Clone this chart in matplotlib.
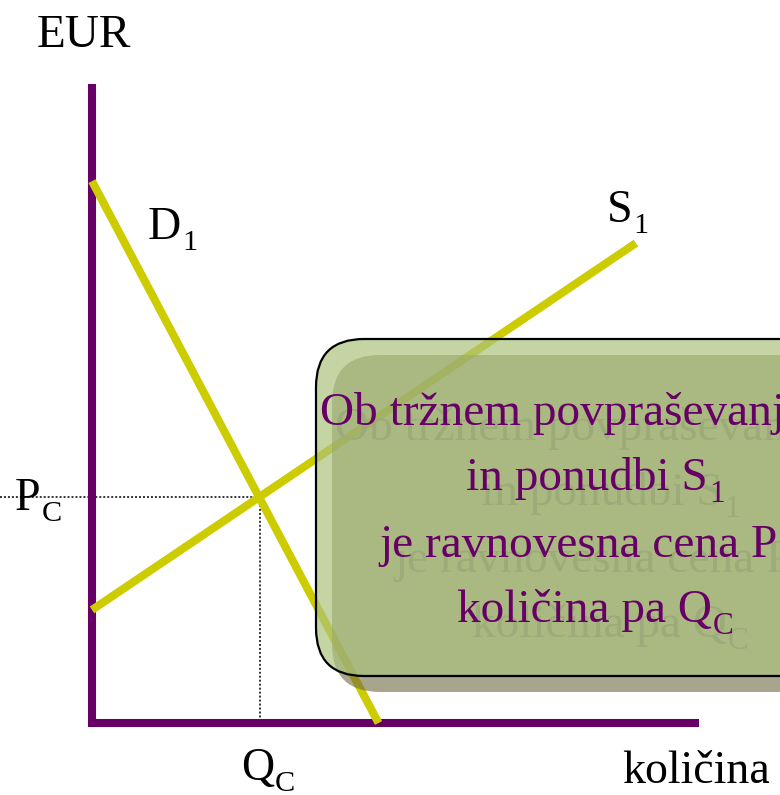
import matplotlib
matplotlib.use("Agg")
import matplotlib.pyplot as plt
from matplotlib.patches import FancyBboxPatch

plt.rcParams['font.family'] = ['Liberation Serif', 'DejaVu Serif']

# data (quantity / price units, axes run 0..10)
axis_q = [0, 0, 10]
axis_p = [10, 0, 0]
demand_q = [0, 4.72]
demand_p = [8.48, 0]
supply_q = [0, 8.96]
supply_p = [1.77, 7.51]
eq_q = 2.76
eq_p = 3.53

# labels as (main text, subscript, trailing text)
label_y = ("EUR", "", "")
label_x = ("količina", "", "")
label_d = ("D", "1", "")
label_s = ("S", "1", "")
label_pc = ("P", "C", "")
label_qc = ("Q", "C", "")
box_lines = [("Ob tržnem povpraševanju D", "1", ""),
             ("in ponudbi S", "1", ""),
             ("je ravnovesna cena P", "C", ","),
             ("količina pa Q", "C", "")]

W, H = 780, 795
ox, oy = 92, 723          # pixel position of origin
sx, sy = 60.7, 63.9       # pixels per unit

purple = "#660066"
yellow = "#cccc00"

fig = plt.figure(figsize=(W / 100, H / 100), dpi=100)
renderer = fig.canvas.get_renderer()
ax = fig.add_axes([0, 0, 1, 1])
ax.set_xlim(-ox / sx, (W - ox) / sx)
ax.set_ylim(-(H - oy) / sy, oy / sy)
ax.axis("off")

ax.plot(axis_q, axis_p, color=purple, lw=5.8, solid_joinstyle="miter",
        solid_capstyle="butt", zorder=2)
ax.plot(demand_q, demand_p, color=yellow, lw=5.8, solid_capstyle="butt", zorder=3)
ax.plot(supply_q, supply_p, color=yellow, lw=5.8, solid_capstyle="butt", zorder=3)

# dotted guides to the equilibrium
ax.plot([-ox / sx, eq_q], [eq_p, eq_p], color="black", lw=1.1,
        ls=(0, (1.3, 1.3)), zorder=1)
ax.plot([eq_q, eq_q], [eq_p, 0], color="black", lw=1.1,
        ls=(0, (1.3, 1.3)), zorder=1)

# overlay in pixel units for labels and the callout box
ov = fig.add_axes([0, 0, 1, 1])
ov.set_xlim(0, W)
ov.set_ylim(H, 0)
ov.axis("off")
ov.patch.set_alpha(0)


def draw_label(x, y, parts, size, color="black", center=False, zorder=5):
    main, sub, tail = parts
    segs = [(main, size, 0), (sub, size * 0.66, 0.25 * size * 1.389),
            (tail, size, 0)]
    cur = x
    texts = []
    for s, fsz, dy in segs:
        if not s:
            continue
        t = ov.text(cur, y + dy, s, fontsize=fsz, color=color,
                    va="baseline", ha="left", zorder=zorder)
        cur += t.get_window_extent(renderer).width + 1
        texts.append(t)
    if center:
        shift = (cur - x) / 2
        for t in texts:
            px, py = t.get_position()
            t.set_position((px - shift, py))


fs = 33
draw_label(37, 47, label_y, 34)
draw_label(148, 239, label_d, fs)
draw_label(607, 222, label_s, fs)
draw_label(15, 510, label_pc, fs)
draw_label(241, 780, label_qc, fs)
draw_label(622, 783, label_x, fs)

# callout box: shadow + translucent body
bx, by, bw, bh = 316, 339, 700, 337
shadow = FancyBboxPatch((bx + 16, by + 16), bw, bh,
                        boxstyle="round,pad=0,rounding_size=48",
                        fc=(0.44, 0.41, 0.26), ec="none", alpha=0.6, zorder=1)
body = FancyBboxPatch((bx, by), bw, bh,
                      boxstyle="round,pad=0,rounding_size=48",
                      fc=(0.67, 0.76, 0.49), ec="none", alpha=0.7, zorder=2)
edge = FancyBboxPatch((bx, by), bw, bh,
                      boxstyle="round,pad=0,rounding_size=48",
                      fc="none", ec="black", lw=1.6, zorder=3)
ov.add_patch(shadow)
ov.add_patch(body)
ov.add_patch(edge)

cx = 596
baselines = [425, 490, 557, 622]
for line, yb in zip(box_lines, baselines):
    draw_label(cx + 15, yb + 15, line, 34, color="#9daa7a", center=True, zorder=4)
for line, yb in zip(box_lines, baselines):
    draw_label(cx, yb, line, 34, color=purple, center=True, zorder=5)

fig.savefig("out.png", dpi=100)
